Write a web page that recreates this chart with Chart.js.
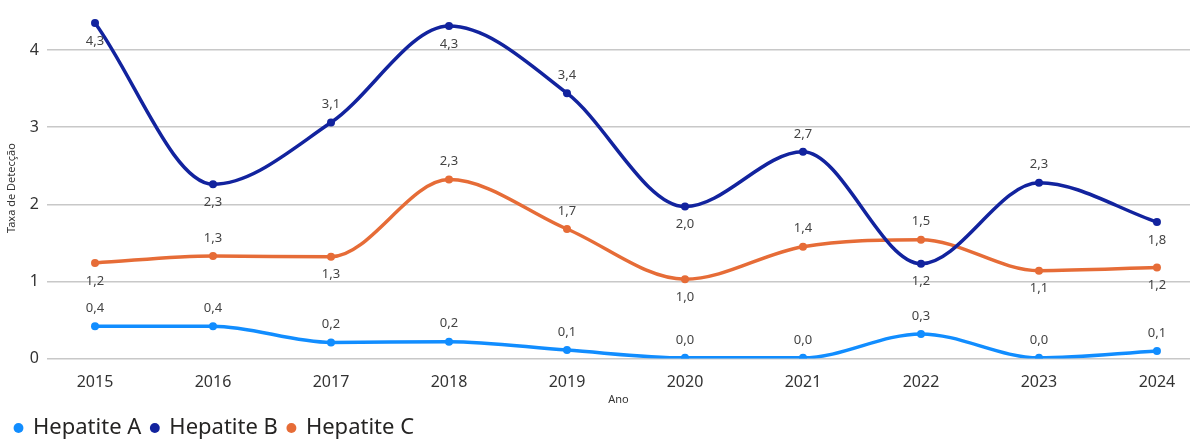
<!DOCTYPE html>
<html><head><meta charset="utf-8">
<script src="https://cdn.jsdelivr.net/npm/chart.js@4.4.1/dist/chart.umd.min.js"></script>
<style>html,body{margin:0;padding:0;background:#fff;}#wrap{width:1194px;height:439px;position:relative;}</style>
</head><body><div id="wrap"><canvas id="c" width="1194" height="439"></canvas></div>
<script>
const categories = [2015, 2016, 2017, 2018, 2019, 2020, 2021, 2022, 2023, 2024];
const hepA = [0.42, 0.42, 0.21, 0.22, 0.11, 0.01, 0.01, 0.32, 0.01, 0.10];
const hepB = [4.35, 2.26, 3.06, 4.31, 3.44, 1.97, 2.68, 1.23, 2.28, 1.77];
const hepC = [1.24, 1.33, 1.32, 2.32, 1.68, 1.03, 1.45, 1.54, 1.14, 1.18];
const yTicks = [0, 1, 2, 3, 4];
const labelPosA = ['above','above','above','above','above','above','above','above','above','above'];
const labelPosB = ['below','below','above','below','above','below','above','below','above','below'];
const labelPosC = ['below','above','below','above','above','below','above','above','below','below'];

const FONT = "'Segoe UI', 'Noto Sans', 'Open Sans', sans-serif";
const toXY = arr => arr.map((v, i) => ({x: categories[i], y: v}));

const dataLabels = {
  id: 'dataLabels',
  afterDatasetsDraw(chart) {
    const ctx = chart.ctx;
    ctx.save();
    ctx.font = '13px ' + FONT;
    ctx.fillStyle = '#444';
    ctx.textAlign = 'center';
    ctx.textBaseline = 'middle';
    chart.data.datasets.forEach((ds, di) => {
      const meta = chart.getDatasetMeta(di);
      meta.data.forEach((pt, i) => {
        const v = ds.data[i].y;
        const txt = v.toFixed(1).replace('.', ',');
        const off = ds.labelPos[i] === 'above' ? -18 : 18;
        ctx.fillText(txt, pt.x, pt.y + off);
      });
    });
    ctx.restore();
  }
};

new Chart(document.getElementById('c'), {
  type: 'line',
  data: {
    datasets: [
      {label: 'Hepatite A', data: toXY(hepA), labelPos: labelPosA, borderColor: '#118DFF', backgroundColor: '#118DFF'},
      {label: 'Hepatite B', data: toXY(hepB), labelPos: labelPosB, borderColor: '#12239E', backgroundColor: '#12239E'},
      {label: 'Hepatite C', data: toXY(hepC), labelPos: labelPosC, borderColor: '#E66C37', backgroundColor: '#E66C37'}
    ]
  },
  options: {
    responsive: false,
    animation: false,
    layout: {padding: {left: 5, right: -6, top: 14, bottom: -10}},
    elements: {
      line: {cubicInterpolationMode: 'monotone', borderWidth: 3.5},
      point: {radius: 4, hoverRadius: 4, borderWidth: 0}
    },
    plugins: {
      tooltip: {enabled: false},
      legend: {
        position: 'bottom',
        align: 'start',
        labels: {
          usePointStyle: true,
          pointStyle: 'circle',
          boxWidth: 7,
          boxHeight: 7,
          padding: 10,
          color: '#252423',
          font: {family: FONT, size: 22}
        }
      }
    },
    scales: {
      x: {
        type: 'linear',
        min: 2014.593,
        max: 2024.28,
        grid: {display: false},
        border: {display: false},
        afterBuildTicks: s => { s.ticks = categories.map(v => ({value: v})); },
        ticks: {
          callback: v => String(v),
          color: '#333',
          padding: 6,
          font: {family: FONT, size: 16},
          maxRotation: 0
        },
        title: {display: true, text: 'Ano', color: '#333', font: {family: FONT, size: 11}, padding: {top: -5, bottom: 1}}
      },
      y: {
        min: 0,
        max: 4.42,
        afterBuildTicks: s => { s.ticks = yTicks.map(v => ({value: v})); },
        afterFit: s => { s.width = 42; },
        grid: {color: '#C8C8C8', lineWidth: 1.5, drawTicks: false},
        border: {display: false},
        ticks: {color: '#333', padding: 8, font: {family: FONT, size: 16}},
        title: {display: true, text: 'Taxa de Detecção', color: '#333', font: {family: FONT, size: 11}, padding: {top: 0, bottom: 0}}
      }
    }
  },
  plugins: [dataLabels]
});
</script></body></html>
